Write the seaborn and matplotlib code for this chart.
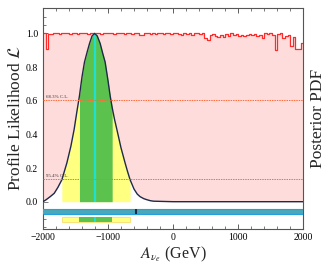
import numpy as np
import pandas as pd
import matplotlib
matplotlib.use("Agg")
import matplotlib.pyplot as plt
import seaborn as sns
from matplotlib.ticker import MultipleLocator

# profile likelihood curve
like_x = [-2000, -1950, -1888, -1826, -1770, -1709, -1632, -1570, -1520, -1480,
          -1438, -1400, -1361, -1320, -1284, -1245, -1205, -1165, -1120, -1080,
          -1044, -1000, -967, -936, -900, -864, -800, -737, -700, -660,
          -600, -550, -507, -450, -404, -350, -300, 0, 2000]
like_y = [0.0, 0.012, 0.03, 0.05, 0.085, 0.13, 0.23, 0.33, 0.43, 0.53,
          0.63, 0.74, 0.83, 0.89, 0.94, 0.985, 1.0, 0.985, 0.94, 0.88,
          0.83, 0.72, 0.63, 0.56, 0.49, 0.43, 0.32, 0.23, 0.18, 0.13,
          0.075, 0.045, 0.03, 0.018, 0.012, 0.006, 0.003, 0.0, 0.0]

# posterior pdf, 100 bins of 40 GeV, normalised to max
post_edges = list(range(-2000, 2001, 40))
post_vals = [1.0, 0.905, 0.995, 0.998, 1.0, 1.0, 0.998, 1.0, 1.0, 1.0,
             0.998, 1.0, 1.0, 0.997, 1.0, 1.0, 1.0, 0.998, 1.0, 1.0,
             1.0, 1.0, 0.998, 1.0, 1.0, 1.0, 1.0, 0.997, 1.0, 1.0,
             1.0, 0.998, 1.0, 1.0, 0.996, 1.0, 1.0, 0.993, 0.993, 1.0,
             1.0, 0.998, 1.0, 0.997, 1.0, 1.0, 0.996, 1.0, 1.0, 0.998,
             1.0, 1.0, 0.995, 0.99, 1.0, 0.994, 1.0, 0.99, 1.0, 1.0,
             0.995, 1.0, 0.975, 0.96, 0.99, 0.998, 0.985, 0.978, 0.99, 0.98,
             0.995, 0.985, 1.0, 0.99, 0.995, 0.985, 0.99, 0.985, 0.988, 0.995,
             0.99, 0.995, 0.985, 0.99, 0.97, 1.0, 0.995, 1.0, 0.99, 0.9,
             0.998, 1.0, 0.97, 0.985, 0.99, 0.925, 0.98, 0.91, 0.91, 0.945]

best_fit = -1205
post_mean = -570
cl68 = (-1438, -936)
cl95 = (-1709, -660)
cl68_level = 0.607
cl95_level = 0.135

sns.set_theme(style="ticks")
plt.rcParams["font.family"] = ["Liberation Serif", "DejaVu Serif"]
plt.rcParams["mathtext.fontset"] = "stix"

fig = plt.figure(figsize=(3.3, 2.64), dpi=100)
ax = fig.add_axes([0.130, 0.134, 0.789, 0.835])

post_df = pd.DataFrame({
    "A": [(a + b) / 2 for a, b in zip(post_edges[:-1], post_edges[1:])],
    "w": post_vals,
})
sns.histplot(data=post_df, x="A", weights="w", bins=post_edges, element="step",
             fill=True, color="#ffdcdc", alpha=1.0, linewidth=0, ax=ax, zorder=1)
sns.histplot(data=post_df, x="A", weights="w", bins=post_edges, element="step",
             fill=False, color="#ff2a2a", linewidth=0.9, ax=ax, zorder=2)

lx = np.array(like_x)
ly = np.array(like_y)
ax.fill_between(lx, 0, ly, color="white", lw=0, zorder=3)
ax.fill_between(lx, 0, ly, where=(lx >= cl95[0]) & (lx <= cl95[1]),
                color="#ffff80", lw=0, zorder=4)
ax.fill_between(lx, 0, ly, where=(lx >= cl68[0]) & (lx <= cl68[1]),
                color="#5cc24e", lw=0, zorder=5)
ax.vlines(best_fit, 0, 1.0, color="#20e0d0", lw=1.6, zorder=6)
sns.lineplot(x=like_x, y=like_y, color="#1e2a48", lw=1.0, ax=ax, zorder=7)

# confidence level lines
for lev, lab in [(cl68_level, "68.3% C.L."), (cl95_level, "95.4% C.L.")]:
    ax.axhline(lev, color="#ff6a3a", lw=0.7, ls=(0, (1.5, 1)), zorder=8)
    ax.text(-1950, lev + 0.01, lab, fontsize=3.5, color="#333333", zorder=9)

# posterior bar
ax.fill_between([-2000, 2000], -0.074, -0.042, color="#4aa8b8", lw=0, zorder=3)
ax.hlines([-0.042, -0.074], -2000, 2000, color="#22a0e0", lw=0.8, zorder=4)
ax.vlines(post_mean, -0.074, -0.042, color="#1e2a48", lw=1.5, zorder=5)

# likelihood intervals bar
ax.fill_between(list(cl95), -0.123, -0.091, color="#ffff80",
                edgecolor="#f6d860", lw=0.5, zorder=3)
ax.fill_between(list(cl68), -0.123, -0.091, color="#5cc24e", lw=0, zorder=4)
ax.vlines(best_fit, -0.123, -0.091, color="#20e0d0", lw=1.4, zorder=5)

ax.set_xlim(-2000, 2000)
ax.set_ylim(-0.16, 1.15)
ax.set_yticks([0.0, 0.2, 0.4, 0.6, 0.8, 1.0])
ax.set_xticks([-2000, -1000, 0, 1000, 2000])
ax.xaxis.set_minor_locator(MultipleLocator(200))
ax.yaxis.set_minor_locator(MultipleLocator(0.05))
ax.tick_params(which="both", direction="in", top=True, right=True,
               labelsize=7, colors="#444444", labelcolor="black")
ax.tick_params(which="major", length=3.5, width=0.6)
ax.tick_params(which="minor", length=2, width=0.5)
for s in ax.spines.values():
    s.set_color("#555555")
    s.set_linewidth(0.8)

ax.set_xlabel(r"$A_{\nu_e}$ (GeV)", fontsize=11.5, labelpad=2)
ax.set_ylabel(r"Profile Likelihood $\mathcal{L}$", fontsize=12.5, labelpad=1)
ax2 = ax.twinx()
ax2.set_yticks([])
ax2.set_ylabel("Posterior PDF", fontsize=12.5, labelpad=5)
for s in ax2.spines.values():
    s.set_visible(False)

fig.savefig("out.png", dpi=100)
